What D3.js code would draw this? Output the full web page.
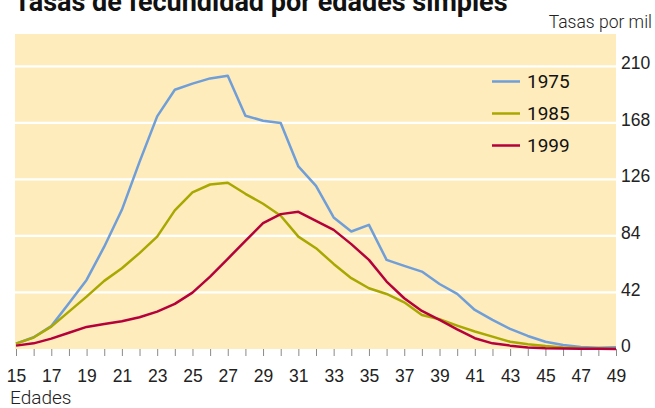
<!DOCTYPE html>
<html>
<head>
<meta charset="utf-8">
<script src="https://cdn.jsdelivr.net/npm/d3@7"></script>
<style>
  body { margin: 0; background: #fff; }
  svg { display: block; font-family: Roboto, "Liberation Sans", sans-serif; }
</style>
</head>
<body>
<div id="chart"></div>
<script>
// Ages 15..49
var ages = d3.range(15, 50);

var tasas1975 = [4, 8.7, 17, 34, 51.3, 76, 103.4, 139, 172.8, 192.6, 197.1, 201, 203, 173.3, 169.6, 167.9,
  135.6, 121.2, 97.7, 87.3, 92.2, 66.2, 61.7, 57.5, 48.3, 40.9, 29, 21.6, 14.9, 9.7, 5.4, 3, 1.5, 1, 1.3];
var tasas1985 = [4, 8.5, 16.6, 27.8, 38.9, 50.6, 60, 71.2, 83.5, 103, 116.3, 122.2, 123.5, 115.3, 107.9, 99,
  83.5, 74.9, 63.2, 52.6, 45.1, 40.9, 34.7, 25.3, 22.1, 17.4, 13, 9.2, 5.4, 3.5, 2.2, 1.2, 0.6, 0.3, 0.2];
var tasas1999 = [2.5, 4.2, 7.7, 12.1, 16.4, 18.6, 20.6, 23.6, 27.8, 33.5, 41.9, 53.8, 67, 80.3, 93.5, 100.2,
  101.9, 95.2, 88.5, 77.9, 66.2, 50.1, 37.7, 28.3, 21.6, 14.6, 8, 4.2, 2.5, 1.2, 0.6, 0.3, 0.1, 0.1, 0];

var years = ["1975", "1985", "1999"];
var colors = ["#6f9ed8", "#a8a800", "#b5003a"];
var yTicks = [0, 42, 84, 126, 168, 210];

var width = 655, height = 408;
var x0 = 16, x1 = 616, yTop = 34, yBase = 349;

var svg = d3.select("#chart").append("svg")
  .attr("width", width)
  .attr("height", height);

var xScale = d3.scaleLinear().domain([15, 49]).range([x0, x1]);
var yScale = d3.scaleLinear().domain([0, 234]).range([yBase, yTop]);

// background
svg.append("rect")
  .attr("x", xScale(15) - 1)
  .attr("y", yTop)
  .attr("width", xScale(49) - xScale(15) + 1)
  .attr("height", yBase - yTop)
  .attr("fill", "#feecbc");

// gridlines
svg.selectAll(".grid")
  .data(yTicks.filter(d => d > 0))
  .enter().append("line")
    .attr("x1", xScale(15) - 1)
    .attr("x2", xScale(49))
    .attr("y1", d => yScale(d))
    .attr("y2", d => yScale(d))
    .attr("stroke", "#fff")
    .attr("stroke-width", 2.2);

// x axis ticks
var xAxis = d3.axisBottom(xScale)
  .tickValues(ages)
  .tickSize(7)
  .tickFormat(d => (d % 2 === 1 ? d : ""));
var gx = svg.append("g")
  .attr("transform", `translate(0, ${yBase})`)
  .call(xAxis);
gx.select(".domain").remove();
gx.selectAll(".tick line").attr("stroke", "#8a8a8a").attr("stroke-width", 1);
gx.selectAll(".tick text")
  .attr("y", 33)
  .attr("dy", 0)
  .attr("fill", "#222")
  .style("font-size", "17.5px")
  .style("font-weight", 300);

// y axis labels on the right
var yAxis = d3.axisRight(yScale)
  .tickValues(yTicks)
  .tickSize(0)
  .tickPadding(0);
var gy = svg.append("g")
  .attr("transform", `translate(${x1 + 4}, 0)`)
  .call(yAxis);
gy.select(".domain").remove();
gy.selectAll(".tick text")
  .attr("x", 1)
  .attr("y", -3)
  .attr("fill", "#222")
  .style("font-size", "17.5px")
  .style("font-weight", 300);

// lines
var line = d3.line()
  .x((d, i) => xScale(ages[i]))
  .y(d => yScale(d));

var series = [tasas1975, tasas1985, tasas1999];
svg.selectAll(".serie")
  .data(series)
  .enter().append("path")
    .attr("d", d => line(d))
    .attr("fill", "none")
    .attr("stroke", (d, i) => colors[i])
    .attr("stroke-width", 2.5)
    .attr("stroke-linejoin", "round");

// legend
var legend = svg.selectAll(".leg")
  .data(years)
  .enter().append("g")
    .attr("transform", (d, i) => `translate(492, ${81.5 + i * 32})`);
legend.append("line")
  .attr("x1", 0).attr("x2", 28)
  .attr("stroke", (d, i) => colors[i])
  .attr("stroke-width", 2.5);
legend.append("text")
  .attr("x", 35)
  .attr("y", 6.5)
  .attr("fill", "#111")
  .style("font-size", "19px")
  .text(d => d);

// titles
svg.append("text")
  .attr("x", 14)
  .attr("y", 11)
  .attr("fill", "#111")
  .style("font-size", "27px")
  .style("font-weight", 700)
  .text("Tasas de fecundidad por edades simples");

svg.append("text")
  .attr("x", 652)
  .attr("y", 28)
  .attr("text-anchor", "end")
  .attr("fill", "#222")
  .style("font-size", "17.5px")
  .style("font-weight", 300)
  .text("Tasas por mil");

svg.append("text")
  .attr("x", 10)
  .attr("y", 404)
  .attr("fill", "#222")
  .style("font-size", "19px")
  .style("font-weight", 300)
  .text("Edades");
</script>
</body>
</html>
